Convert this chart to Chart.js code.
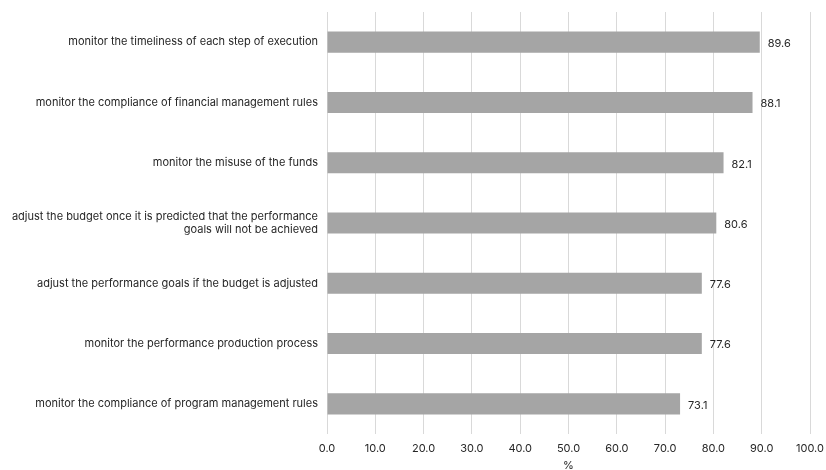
<!DOCTYPE html>
<html lang="en">
<head>
  <meta charset="UTF-8" />
  <title>Monitoring practices</title>
  <script src="https://cdn.jsdelivr.net/npm/chart.js"></script>
  <style>
    * { margin: 0; padding: 0; }
    body { background: #fff; width: 826px; height: 470px; overflow: hidden; }
    #wrap { width: 826px; height: 470px; }
  </style>
</head>
<body>
  <div id="wrap"><canvas id="chart"></canvas></div>
  <script>
    const categories = [
      'monitor the timeliness of each step of execution',
      'monitor the compliance of financial management rules',
      'monitor the misuse of the funds',
      ['adjust the budget once it is predicted that the performance', 'goals will not be achieved'],
      'adjust the performance goals if the budget is adjusted',
      'monitor the performance production process',
      'monitor the compliance of program management rules'
    ];
    const values = [89.6, 88.1, 82.1, 80.6, 77.6, 77.6, 73.1];
    const xMin = 0;
    const xMax = 100;
    const xStep = 10;

    const FONT = 'Inter, "Liberation Sans", sans-serif';
    const TEXT = '#262626';

    // value labels to the right of each bar
    const valueLabels = {
      id: 'valueLabels',
      afterDatasetsDraw(chart) {
        const { ctx } = chart;
        const meta = chart.getDatasetMeta(0);
        ctx.save();
        ctx.font = '11px ' + FONT;
        ctx.fillStyle = TEXT;
        ctx.textAlign = 'left';
        ctx.textBaseline = 'middle';
        meta.data.forEach((bar, i) => {
          ctx.fillText(values[i].toFixed(1), bar.x + 8, bar.y + 1.5);
        });
        ctx.restore();
      }
    };

    new Chart(document.getElementById('chart'), {
      type: 'bar',
      data: {
        labels: categories,
        datasets: [{
          data: values,
          backgroundColor: '#a5a5a5',
          borderWidth: 0,
          barPercentage: 0.7,
          categoryPercentage: 0.5
        }]
      },
      options: {
        indexAxis: 'y',
        responsive: true,
        maintainAspectRatio: false,
        animation: false,
        layout: { padding: { top: 12, right: 16, bottom: 0, left: 0 } },
        plugins: { legend: { display: false }, tooltip: { enabled: false } },
        scales: {
          x: {
            min: xMin,
            max: xMax,
            afterFit: s => {
              s.height = 36;
              s.paddingLeft = 0;
              s.paddingRight = 0;
            },
            ticks: {
              stepSize: xStep,
              padding: 8,
              color: TEXT,
              font: { family: FONT, size: 11 },
              callback: v => v.toFixed(1)
            },
            grid: { color: '#d9d9d9', drawTicks: false },
            border: { display: false },
            title: {
              display: true,
              text: '%',
              color: TEXT,
              font: { family: FONT, size: 11 },
              padding: { top: 0, bottom: -2 }
            }
          },
          y: {
            afterFit: s => {
              s.width = 327;
              s.paddingTop = 0;
              s.paddingBottom = 0;
            },
            ticks: {
              padding: 9,
              color: TEXT,
              font: { family: FONT, size: 11 }
            },
            grid: { display: false, drawTicks: false },
            border: { display: false }
          }
        }
      },
      plugins: [valueLabels]
    });
  </script>
</body>
</html>
